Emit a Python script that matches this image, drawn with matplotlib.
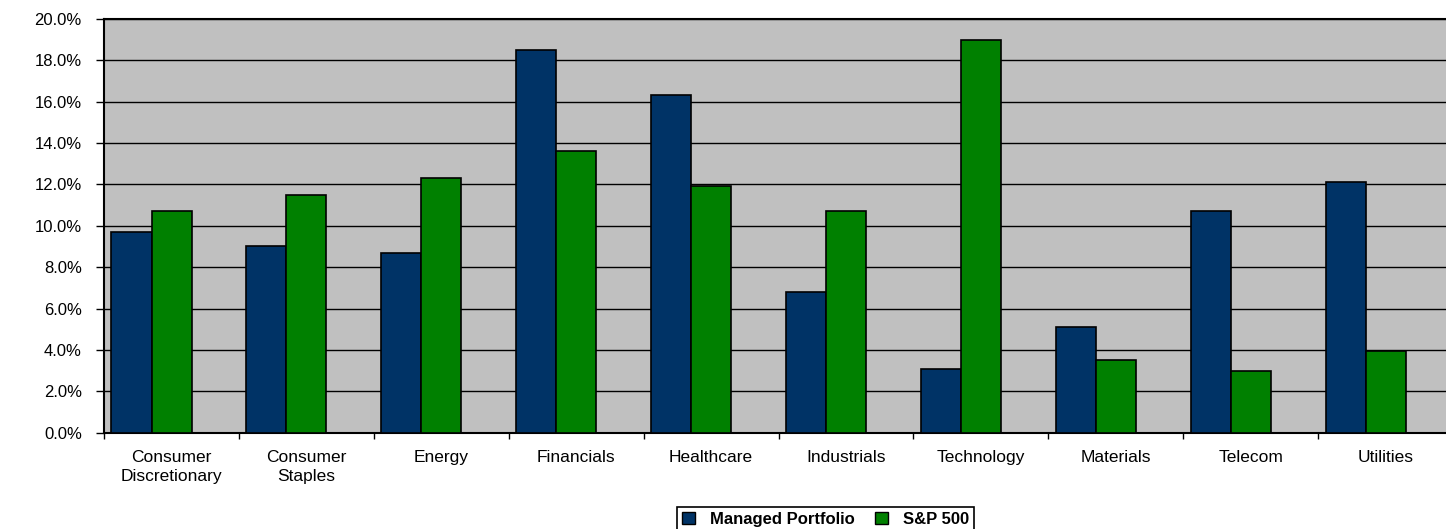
import matplotlib
matplotlib.use("Agg")
import matplotlib.pyplot as plt
from matplotlib.patches import Patch
import numpy as np

categories = ["Consumer\nDiscretionary", "Consumer\nStaples", "Energy", "Financials",
              "Healthcare", "Industrials", "Technology", "Materials", "Telecom", "Utilities"]
managed = [9.7, 9.0, 8.7, 18.5, 16.3, 6.8, 3.1, 5.1, 10.7, 12.1]
sp500 = [10.7, 11.5, 12.3, 13.6, 11.9, 10.7, 19.0, 3.5, 3.0, 3.95]
series_names = ["Managed Portfolio", "S&P 500"]
yticks = [0, 2, 4, 6, 8, 10, 12, 14, 16, 18, 20]

NAVY = "#003366"
GREEN = "#008000"
BG = "#C0C0C0"

plt.rcParams['font.family'] = ['Liberation Sans', 'DejaVu Sans']

W, H = 1446, 529
fig = plt.figure(figsize=(W / 100, H / 100), dpi=100)
fig.patch.set_facecolor("white")

cat_px = 134.9
left_px, bottom_px, top_px = 104, 432.7, 18.9
ax = fig.add_axes([left_px / W, 1 - bottom_px / H, 10 * cat_px / W, (bottom_px - top_px) / H])
ax.set_facecolor(BG)
ax.set_xlim(0, 10)
ax.set_ylim(0, 20)

x = np.arange(len(categories))
off = 7.5 / cat_px
bw = 40 / cat_px
ax.bar(x + off, managed, width=bw, align='edge', color=NAVY, edgecolor='black', linewidth=1.2, zorder=3)
ax.bar(x + off + bw, sp500, width=bw, align='edge', color=GREEN, edgecolor='black', linewidth=1.2, zorder=3)

ax.set_axisbelow(True)
ax.set_yticks(yticks)
ax.set_yticklabels([f"{v:.1f}%" for v in yticks], fontsize=12)
ax.yaxis.grid(True, color='black', linewidth=1.0, zorder=0)
ax.tick_params(axis='y', direction='out', length=6, width=1, pad=10, color='black')

ax.set_xticks(np.arange(0, 11))
ax.set_xticklabels([])
ax.set_xticks(x + 0.5, minor=True)
ax.set_xticklabels(categories, minor=True, fontsize=12.5, linespacing=1.3)
ax.tick_params(axis='x', which='major', direction='out', length=4, width=1, color='black')
ax.tick_params(axis='x', which='minor', length=0, pad=12.5)

for s in ['left', 'bottom', 'top']:
    ax.spines[s].set_color('black')
    ax.spines[s].set_linewidth(1.5)
ax.spines['right'].set_visible(False)

handles = [Patch(facecolor=NAVY, edgecolor='black', linewidth=1),
           Patch(facecolor=GREEN, edgecolor='black', linewidth=1)]
leg = fig.legend(handles, series_names, loc='upper center',
                 bbox_to_anchor=(825.5 / W, 1 - 506.7 / H), ncol=2,
                 frameon=True, fancybox=False, framealpha=1, edgecolor='black',
                 prop={'weight': 'bold', 'size': 12}, handlelength=0.8, handleheight=0.7,
                 handletextpad=0.9, columnspacing=1.2, borderaxespad=0, borderpad=0.3)
leg.get_frame().set_linewidth(1.2)

fig.savefig("out.png", dpi=100)
